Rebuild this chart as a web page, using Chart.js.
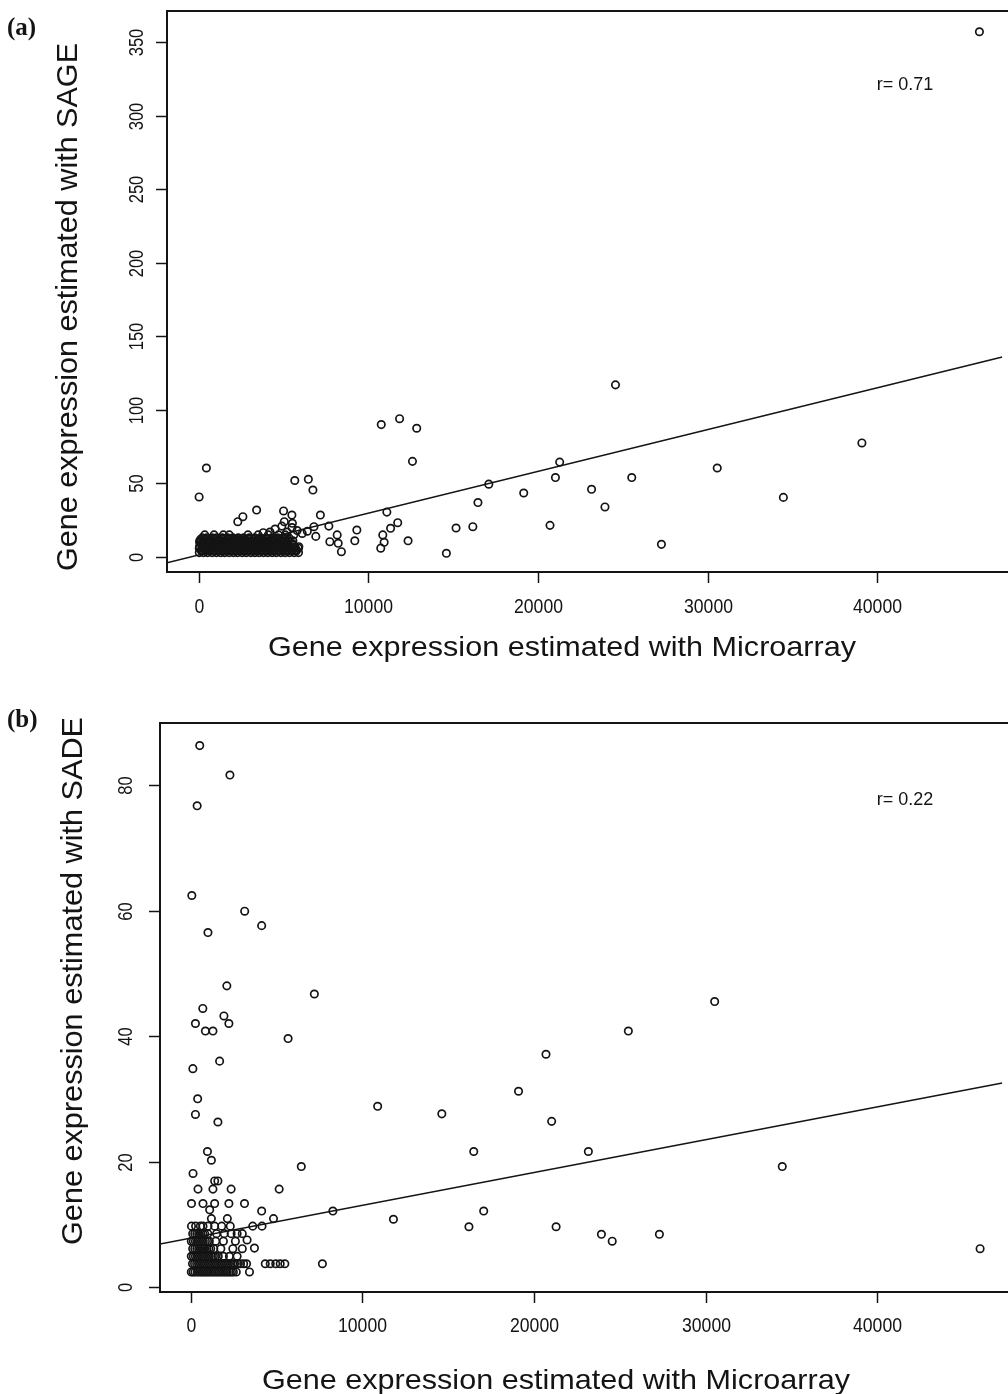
<!DOCTYPE html>
<html>
<head>
<meta charset="utf-8">
<script src="https://cdn.jsdelivr.net/npm/chart.js@4.4.1/dist/chart.umd.min.js"></script>
<style>
  html, body { margin: 0; padding: 0; background: #fff; }
  #wrap { position: relative; width: 1008px; height: 1394px; overflow: hidden; }
  canvas { position: absolute; left: 0; }
  #chartA { top: 0; }
  #chartB { top: 690px; }
</style>
</head>
<body>
<div id="wrap">
  <canvas id="chartA" width="1008" height="690"></canvas>
  <canvas id="chartB" width="1008" height="704"></canvas>
</div>
<script>
// ===== 目盛 =====
const xTicks = [0, 10000, 20000, 30000, 40000];
const sageTicks = [0, 50, 100, 150, 200, 250, 300, 350];
const sadeTicks = [0, 20, 40, 60, 80];

// ===== (a) SAGE vs Microarray =====
// 散らばった点 [microarray, SAGE]
const sageScatter = [
  [46030, 357], [24570, 117], [39100, 77.5], [30570, 60.5], [34470, 40.5], [27280, 8.6],
  [25530, 54], [21280, 64.5], [21030, 54], [17100, 49.5], [19160, 43.5], [16460, 37],
  [23160, 46], [23950, 34], [10760, 90], [11840, 94], [12850, 87.5], [12600, 65],
  [11090, 30.5], [11730, 23.3], [11310, 19.5], [9320, 18.3], [9200, 11], [10850, 15],
  [10930, 10], [10730, 6], [12340, 11], [15170, 19.7], [16160, 20.6], [14600, 2.5],
  [20710, 21.5], [450, 60.5], [20, 40.8], [5660, 52], [6460, 52.8], [6730, 45.5],
  [3410, 31.9], [2300, 24], [2600, 27.4], [5000, 31.3], [5490, 28.5], [7170, 28.5],
  [5040, 24], [5520, 22.9], [6790, 20.6], [7670, 21], [8160, 15], [8220, 9.3],
  [8410, 3.6], [7730, 10.4], [5800, 18], [5500, 20], [4500, 19], [6100, 16],
  [6400, 17.5], [5200, 17], [4900, 21], [4200, 17], [3800, 16.5], [6900, 14]
];
// 左下の密集部 [SAGE, microarray値の列]
const sageCluster = [
  [3, [30, 280, 520, 790, 1040, 1300, 1530, 1790, 2050, 2290, 2560, 2800, 3070, 3310, 3560, 3820, 4070, 4330, 4570, 4840, 5090, 5350, 5620, 5880]],
  [4, [160, 410, 650, 920, 1170, 1420, 1660, 1920, 2170, 2420, 2680, 2930, 3190, 3440, 3690, 3950, 4200, 4450, 4710, 4970, 5220, 5490, 5750]],
  [5, [150, 400, 660, 910, 1170, 1420, 1670, 1930, 2170, 2430, 2690, 2940, 3190, 3440, 3700, 3950, 4200, 4460, 4710, 4960, 5230, 5480, 5760]],
  [6, [30, 280, 530, 780, 1040, 1290, 1540, 1800, 2050, 2300, 2560, 2810, 3060, 3320, 3570, 3830, 4080, 4340, 4590, 4850, 5100, 5360, 5620, 5870]],
  [7, [40, 300, 540, 800, 1050, 1310, 1560, 1800, 2060, 2320, 2570, 2820, 3080, 3330, 3590, 3840, 4090, 4350, 4600, 4860, 5110, 5370, 5650, 5900]],
  [8, [170, 420, 680, 930, 1190, 1440, 1700, 1950, 2200, 2460, 2710, 2960, 3220, 3470, 3730, 3980, 4240, 4490, 4750, 5010, 5290, 5580]],
  [9, [160, 410, 670, 920, 1180, 1430, 1690, 1940, 2190, 2450, 2700, 2950, 3210, 3460, 3720, 3970, 4230, 4480, 4740, 5000, 5260, 5530]],
  [10, [50, 300, 560, 810, 1070, 1320, 1580, 1830, 2080, 2340, 2590, 2850, 3100, 3360, 3610, 3870, 4120, 4380, 4640, 4900, 5180]],
  [11, [60, 320, 570, 830, 1080, 1340, 1590, 1850, 2100, 2360, 2610, 2870, 3120, 3380, 3640, 3890, 4150, 4410, 4680, 4950, 5250, 5550]],
  [12, [120, 380, 640, 900, 1160, 1420, 1680, 1940, 2200, 2460, 2720, 2980, 3240, 3500, 3760, 4020, 4280, 4540, 4820, 5100]],
  [13, [200, 470, 780, 1050, 1390, 1700, 2010, 2330, 2650, 2980, 3300, 3620, 3960, 4300, 4650, 4990, 5320]],
  [15, [350, 900, 1450, 1800, 2900, 3500, 4100, 4700, 5100, 5600]]
];
const sageFit = [[-1874, -3.9], [47379, 136]];

// ===== (b) SADE vs Microarray =====
const sadeScatter = [
  [30530, 45.5], [25500, 40.8], [20700, 37.1], [19100, 31.2], [10890, 28.8], [14630, 27.6],
  [21030, 26.4], [16490, 21.6], [23170, 21.6], [34470, 19.2], [8280, 12.1], [11810, 10.8],
  [17070, 12.1], [16210, 9.6], [21290, 9.6], [23930, 8.4], [24560, 7.3], [27310, 8.4],
  [46000, 6.1], [7670, 3.7], [7200, 46.7],
  [520, 86.3], [2280, 81.6], [370, 76.7], [60, 62.4], [3140, 59.9], [4130, 57.6],
  [1000, 56.5], [2100, 48], [700, 44.4], [270, 42], [1930, 43.2], [2220, 42],
  [850, 40.8], [1290, 40.8], [5670, 39.6], [1680, 36], [120, 34.8], [400, 30],
  [270, 27.5], [1580, 26.3], [970, 21.6], [1200, 20.2], [6440, 19.2], [130, 18.1],
  [1390, 16.9], [1580, 16.9], [420, 15.6], [1290, 15.6], [2350, 15.6], [5150, 15.6],
  [40, 13.3], [710, 13.3], [1390, 13.3], [2220, 13.3], [3130, 13.3], [1100, 12.3],
  [4130, 12.1], [2130, 10.9], [1200, 10.9], [4820, 10.9], [3610, 9.7], [4150, 9.7],
  [3280, 7.5], [3710, 6.2], [4340, 3.7], [4630, 3.7], [4950, 3.7], [5480, 3.7],
  [5210, 3.7], [3420, 2.4]
];
const sadeCluster = [
  [2.4, [30, 140, 250, 380, 500, 620, 730, 850, 960, 1080, 1200, 1320, 1430, 1550, 1660, 1780, 1900, 2020, 2130, 2250, 2370, 2480, 2650]],
  [3.7, [100, 220, 340, 450, 570, 690, 800, 920, 1040, 1150, 1270, 1390, 1500, 1620, 1740, 1850, 1970, 2090, 2200, 2320, 2440, 2550, 2730, 2900, 3080, 3250]],
  [4.9, [30, 150, 270, 380, 500, 620, 730, 850, 970, 1080, 1200, 1320, 1430, 1600, 1900, 2250, 2700]],
  [6.1, [110, 230, 350, 460, 580, 700, 810, 930, 1050, 1160, 1340, 1750, 2450, 3000]],
  [7.3, [30, 150, 270, 380, 500, 620, 730, 850, 970, 1080, 1450, 1900, 2600]],
  [8.5, [110, 230, 350, 460, 580, 700, 810, 990, 1500, 1950, 2350, 2700, 3000]],
  [9.7, [40, 280, 560, 710, 1000, 1390, 1800, 2300]]
];
const sadeFit = [[-1795, 6.85], [47294, 32.5]];

const INK = '#141414';
const SANS = "'Liberation Sans', Arial, sans-serif";

const toPts = pairs => pairs.map(([x, y]) => ({ x, y }));
const rowsToPts = rows => rows.flatMap(([y, xs]) => xs.map(x => ({ x, y })));

// テキストを指定の幅に収めて描画
function fitText(ctx, text, cx, cy, font, width, rotate) {
  ctx.save();
  ctx.font = font;
  const w = ctx.measureText(text).width;
  ctx.translate(cx, cy);
  if (rotate) ctx.rotate(-Math.PI / 2);
  ctx.scale(width / w, 1);
  ctx.textAlign = 'center';
  ctx.textBaseline = 'middle';
  ctx.fillText(text, 0, 0);
  ctx.restore();
}

// R の plot 風の枠・目盛・ラベル
function rAxesPlugin(cfg) {
  return {
    id: 'rAxes',
    afterDraw(chart) {
      const { ctx, chartArea: a, scales: { x, y } } = chart;
      ctx.save();
      ctx.strokeStyle = INK;
      ctx.fillStyle = INK;
      ctx.lineWidth = 2;
      ctx.beginPath();
      ctx.moveTo(chart.width, a.top);
      ctx.lineTo(a.left, a.top);
      ctx.lineTo(a.left, a.bottom);
      ctx.lineTo(chart.width, a.bottom);
      ctx.stroke();

      ctx.lineWidth = 1.5;
      cfg.xTicks.forEach(v => {
        const px = Math.round(x.getPixelForValue(v)) + 0.5;
        ctx.beginPath(); ctx.moveTo(px, a.bottom); ctx.lineTo(px, a.bottom + 11); ctx.stroke();
        const s = String(v);
        fitText(ctx, s, px, cfg.xLabelY, '20px ' + SANS, s.length * 9.8, false);
      });
      cfg.yTicks.forEach(v => {
        const py = Math.round(y.getPixelForValue(v)) + 0.5;
        ctx.beginPath(); ctx.moveTo(a.left - 11, py); ctx.lineTo(a.left, py); ctx.stroke();
        const s = String(v);
        fitText(ctx, s, cfg.yLabelX, py, '20px ' + SANS, s.length * 9.2, true);
      });

      fitText(ctx, cfg.xTitle, cfg.xTitleX, cfg.xTitleY, '28px ' + SANS, 588, false);
      fitText(ctx, cfg.yTitle, cfg.yTitleX, cfg.yTitleY, '30px ' + SANS, 528, true);

      ctx.font = "bold 25px 'Liberation Serif', 'Times New Roman', serif";
      ctx.textAlign = 'left';
      ctx.textBaseline = 'middle';
      ctx.fillText(cfg.panel, 7, cfg.panelY);

      ctx.font = '18px ' + SANS;
      ctx.textAlign = 'center';
      ctx.fillText(cfg.note, 905, cfg.noteY);
      ctx.restore();
    }
  };
}

function makeChart(id, pts, fit, xRange, yRange, axisH, topPad, leftW, cfg) {
  return new Chart(document.getElementById(id), {
    type: 'scatter',
    data: {
      datasets: [
        {
          data: pts,
          pointStyle: 'circle',
          pointRadius: 3.7,
          borderWidth: 1.7,
          borderColor: INK,
          backgroundColor: 'rgba(0,0,0,0)'
        },
        {
          type: 'line',
          data: toPts(fit),
          borderColor: INK,
          borderWidth: 1.5,
          pointRadius: 0,
          fill: false
        }
      ]
    },
    options: {
      responsive: false,
      animation: false,
      events: [],
      layout: { padding: { top: topPad, left: 0, right: 0, bottom: 0 } },
      plugins: { legend: { display: false }, tooltip: { enabled: false } },
      scales: {
        x: {
          type: 'linear', min: xRange[0], max: xRange[1],
          ticks: { display: false }, grid: { display: false }, border: { display: false },
          afterFit: s => { s.height = axisH; }
        },
        y: {
          type: 'linear', min: yRange[0], max: yRange[1],
          ticks: { display: false }, grid: { display: false }, border: { display: false },
          afterFit: s => { s.width = leftW; }
        }
      }
    },
    plugins: [rAxesPlugin(cfg)]
  });
}

makeChart('chartA', toPts(sageScatter).concat(rowsToPts(sageCluster)), sageFit,
  [-1874, 47379], [-10.2, 371.1], 118, 11, 167, {
    xTicks, yTicks: sageTicks,
    xLabelY: 607, yLabelX: 137,
    xTitle: 'Gene expression estimated with Microarray', xTitleX: 562, xTitleY: 648,
    yTitle: 'Gene expression estimated with SAGE', yTitleX: 69, yTitleY: 307,
    panel: '(a)', panelY: 29, note: 'r= 0.71', noteY: 85
  });

makeChart('chartB', toPts(sadeScatter).concat(rowsToPts(sadeCluster)), sadeFit,
  [-1795, 47294], [-0.8, 89.9], 102, 33, 160, {
    xTicks, yTicks: sadeTicks,
    xLabelY: 636, yLabelX: 126,
    xTitle: 'Gene expression estimated with Microarray', xTitleX: 556, xTitleY: 691,
    yTitle: 'Gene expression estimated with SADE', yTitleX: 74, yTitleY: 291,
    panel: '(b)', panelY: 31, note: 'r= 0.22', noteY: 110
  });
</script>
</body>
</html>
